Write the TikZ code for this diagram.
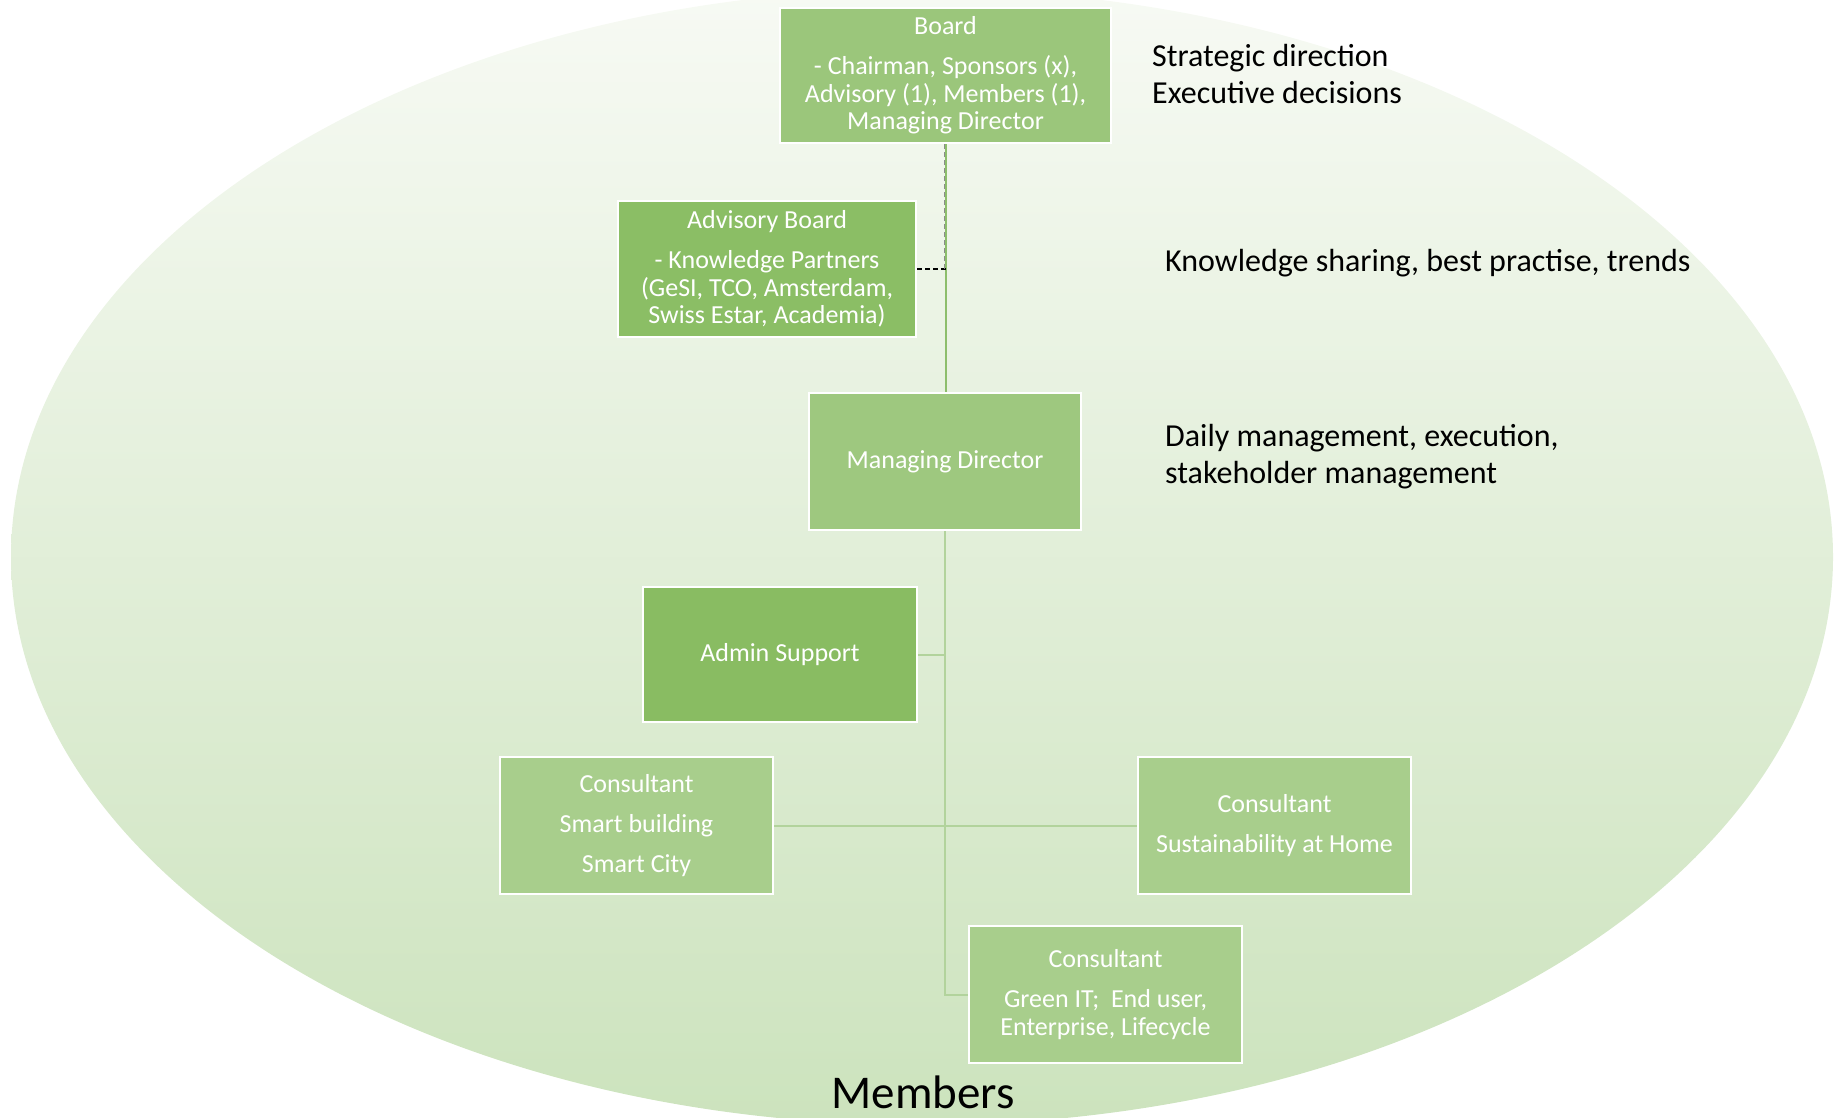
\documentclass[tikz,border=0pt]{standalone}
\usepackage{fontspec}
\setmainfont{Carlito}
\definecolor{bgtop}{RGB}{247,250,244}
\definecolor{bgbot}{RGB}{204,227,189}
\definecolor{boardgreen}{RGB}{155,198,123}
\definecolor{advgreen}{RGB}{139,190,101}
\definecolor{mdgreen}{RGB}{158,200,127}
\definecolor{admingreen}{RGB}{137,188,98}
\definecolor{consgreen}{RGB}{168,206,140}
\definecolor{trunkgreen}{RGB}{141,190,108}
\definecolor{linkgreen}{RGB}{178,211,156}
\begin{document}
\begin{tikzpicture}[x=1pt,y=-1pt,
  box/.style={draw=white, line width=2.5pt, text=white, align=center,
    inner sep=0pt, font=\fontsize{26}{27.6}\selectfont},
  conn/.style={line width=2pt, draw=linkgreen},
  note/.style={anchor=west, align=left, inner sep=0pt,
    font=\fontsize{32}{37.6}\selectfont}
]
\useasboundingbox (0,0) rectangle (1841,1117);
\clip (0,0) rectangle (1841,1117);

% background oval
\shade[top color=bgtop, bottom color=bgbot]
  (922,557) ellipse [x radius=911pt, y radius=568pt];

% boxes
\node[box, fill=boardgreen, minimum width=331pt, minimum height=135pt]
  (board) at (945.5,75.5)
  {Board\\[12.4pt]- Chairman, Sponsors (x),\\Advisory (1), Members (1),\\Managing Director};
\node[box, fill=advgreen, minimum width=298pt, minimum height=136pt]
  (adv) at (767,269)
  {Advisory Board\\[12.4pt]- Knowledge Partners\\(GeSI, TCO, Amsterdam,\\Swiss Estar, Academia)};
\node[box, fill=mdgreen, minimum width=272pt, minimum height=137pt]
  (md) at (945,461.5) {Managing Director};
\node[box, fill=admingreen, minimum width=274pt, minimum height=135pt]
  (admin) at (780,654.5) {Admin Support};
\node[box, fill=consgreen, minimum width=273pt, minimum height=137pt]
  (cl) at (636.5,825.5) {Consultant\\[12.4pt]Smart building\\[12.4pt]Smart City};
\node[box, fill=consgreen, minimum width=273pt, minimum height=137pt]
  (cr) at (1274.5,825.5) {Consultant\\[12.4pt]Sustainability at Home};
\node[box, fill=consgreen, minimum width=273pt, minimum height=137pt]
  (cb) at (1105.5,994.5) {Consultant\\[12.4pt]Green IT;\ \ End user,\\Enterprise, Lifecycle};

% connectors
\draw[line width=2pt, trunkgreen] (board.south) -- (board.south |- md.north);
\draw[dashed, black, line width=2pt, dash pattern=on 5pt off 3pt]
  (adv.east) -- (adv.east -| board.south);
\draw[dashed, black!45, line width=0.8pt, dash pattern=on 5pt off 3pt]
  ([xshift=-1pt]adv.east -| board.south) -- ([xshift=-1pt]board.south);
\draw[conn] (md.south) -- (md.south |- cb.west) -- (cb.west);
\draw[conn] (admin.east) -- (admin.east -| md.south);
\draw[conn] (cl.east) -- (cr.west);

% descriptions
\node[note] (n1) at (1152,74) {Strategic direction\\Executive decisions};
\node[note] (n2) at (1165,263) {Knowledge sharing, best practise, trends};
\node[note] (n3) at (1165,456.5) {Daily management, execution,\\stakeholder management};
\node[inner sep=0pt, font=\fontsize{47}{56}\selectfont] (members) at (923,1092) {Members};
\end{tikzpicture}
\end{document}
